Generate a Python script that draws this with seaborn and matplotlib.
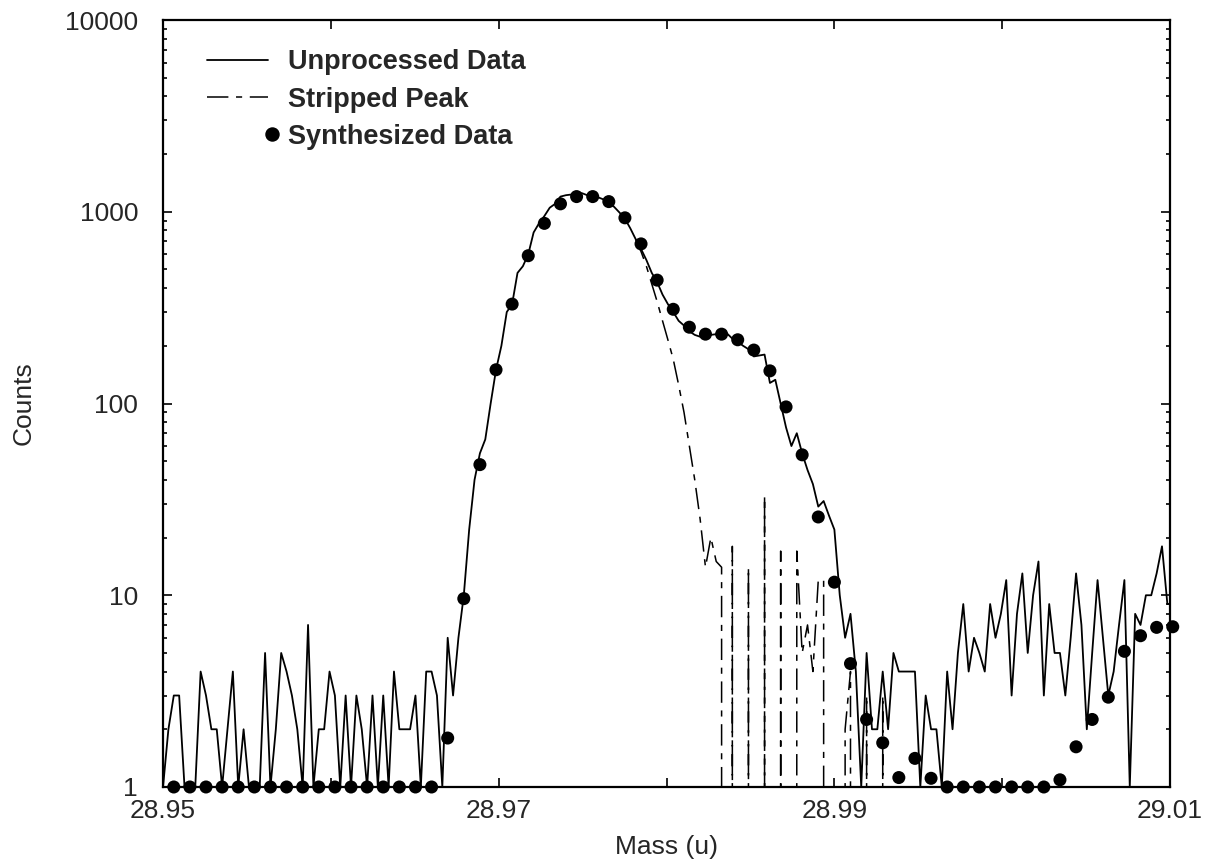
import numpy as np
import matplotlib
matplotlib.use('Agg')
import matplotlib.pyplot as plt
import seaborn as sns
from matplotlib.legend_handler import HandlerLine2D
from matplotlib.lines import Line2D
from matplotlib.ticker import FixedLocator, FixedFormatter, LogLocator, NullFormatter

sns.set_style('ticks')
plt.rcParams['font.family'] = ['Liberation Sans', 'DejaVu Sans']

# mass grid of the raw spectrum (u)
mass_start = 28.95
raw_step = 0.00032

# Unprocessed Data (counts per channel)
raw_counts = [
    1, 2, 3, 3, 1, 1, 1, 4, 3, 2, 2, 1, 2, 4, 1, 2, 1, 1, 1, 5, 1, 2, 5, 4, 3, 2, 1, 7,
    1, 2, 2, 4, 3, 1, 3, 1, 3, 2, 1, 3, 1, 3, 1, 4, 2, 2, 2, 3, 1, 4, 4, 3, 1, 6, 3, 6,
    10, 22, 40, 55, 65, 100, 150, 200, 300, 330,
    480, 520, 600, 780, 870, 950, 1050, 1100, 1200, 1220,
    1230, 1250, 1250, 1220, 1210, 1190, 1160, 1120, 1060, 990,
    920, 820, 720, 640, 560, 480, 430, 370, 330, 300,
    270, 255,
    238, 228, 223, 226, 228, 230, 220, 232, 218, 210,
    200, 192, 176, 178, 180, 128, 133, 100, 75, 60,
    70, 55, 45, 38, 29, 31, 26, 22, 10, 6,
    8, 4, 1, 5, 2, 2, 4, 2, 5, 4,
    4, 4, 4,
    1, 3, 2, 2, 1, 4, 2, 5, 9, 4, 6, 5, 4, 9, 6, 8, 12, 3, 8, 13,
    5, 10, 15, 3, 9, 5, 5, 3, 6, 13, 7, 2, 5, 12, 6, 3, 4, 7, 12, 1,
    8, 7, 10, 10, 13, 18, 9, 9,
]

# Stripped Peak, starts at channel 88 of the raw grid
stripped_first = 88
stripped_counts = [
    720, 620, 520, 420, 340, 270, 215, 170, 125, 90, 60, 40,
    25, 14, 20, 15, 14, 0, 18, 0, 0, 14,
    0, 0, 33, 0, 0, 17, 0, 0, 17, 5,
    7, 4, 12, 12, 0, 0, 0, 2, 4, 0,
    0, 3, 0, 0, 3, 0, 0, 0,
]

# Synthesized Data, every third channel
synth_counts = [
    1, 1, 1, 1, 1, 1, 1, 1, 1, 1, 1, 1, 1, 1, 1, 1, 1,
    1.8, 9.6, 48, 150, 330, 590, 870, 1100, 1200, 1200, 1130, 930, 680, 440,
    310, 250, 230, 230, 215, 190, 148, 96, 54, 25.6, 11.7, 4.4, 2.25, 1.7,
    1.12, 1.41, 1.11, 1, 1, 1, 1, 1, 1, 1,
    1.09, 1.62, 2.25, 2.94, 5.1, 6.15, 6.8, 6.85,
]

x_ticks = [28.95, 28.97, 28.99, 29.01]
x_minor = [28.96, 28.98, 29.00]
y_ticks = [1, 10, 100, 1000, 10000]
y_ticklabels = ['1', '10', '100', '1000', '10000']

raw_mass = mass_start + raw_step * np.arange(len(raw_counts))
stripped_mass = raw_mass[stripped_first:stripped_first + len(stripped_counts)]
synth_mass = raw_mass[2::3][:len(synth_counts)]

dash_dot = (0, (14, 5, 4, 5))

fig = plt.figure(figsize=(12.05, 8.6), dpi=100)
ax = fig.add_axes([0.1353, 0.0849, 0.8357, 0.8918])

sns.lineplot(x=raw_mass, y=raw_counts, color='black', lw=1.3,
             estimator=None, sort=False, ax=ax)
sns.lineplot(x=stripped_mass, y=stripped_counts, color='black', lw=1.1,
             linestyle=dash_dot, estimator=None, sort=False, ax=ax)
sns.scatterplot(x=synth_mass, y=synth_counts, color='black', s=88,
                edgecolor='none', clip_on=False, zorder=3, ax=ax)

ax.set_yscale('log', nonpositive='clip')
ax.set_xlim(28.95, 29.01)
ax.set_ylim(1, 10000)

ax.xaxis.set_major_locator(FixedLocator(x_ticks))
ax.xaxis.set_major_formatter(FixedFormatter(['%.2f' % t for t in x_ticks]))
ax.xaxis.set_minor_locator(FixedLocator(x_minor))
ax.yaxis.set_major_locator(FixedLocator(y_ticks))
ax.yaxis.set_major_formatter(FixedFormatter(y_ticklabels))
ax.yaxis.set_minor_locator(LogLocator(base=10, subs=range(2, 10)))
ax.yaxis.set_minor_formatter(NullFormatter())

ax.tick_params(which='both', direction='in', top=True, right=True,
               color='black', width=1.2)
ax.tick_params(which='major', length=6.5)
ax.tick_params(which='minor', length=3.2)
ax.tick_params(axis='x', which='minor', length=6.5)
ax.tick_params(axis='y', which='major', labelsize=19, pad=18)
ax.tick_params(axis='x', which='major', labelsize=19, pad=9)

for sp in ax.spines.values():
    sp.set_linewidth(1.6)
    sp.set_color('black')

ax.set_xlabel('Mass (u)', fontsize=19, labelpad=8)
ax.set_ylabel('Counts', fontsize=19, labelpad=21)


class RightDotHandler(HandlerLine2D):
    # put the single marker at the right end of the handle
    def get_xdata(self, legend, xdescent, ydescent, width, height, fontsize):
        c = -xdescent + width + 3
        return np.array([c - 1.0, c + 1.0]), np.array([c])


handles = [
    Line2D([], [], color='black', lw=1.3),
    Line2D([], [], color='black', lw=1.1, linestyle=dash_dot),
    Line2D([], [], color='black', lw=0, marker='o', markersize=9.4),
]
labels = ['Unprocessed Data', 'Stripped Peak', 'Synthesized Data']
ax.legend(handles, labels, loc='upper left', bbox_to_anchor=(0.0437, 0.962),
          frameon=False, borderpad=0, borderaxespad=0, handlelength=2.26,
          handletextpad=0.74, labelspacing=0.42,
          prop={'weight': 'bold', 'size': 19.5},
          handler_map={handles[2]: RightDotHandler()})

fig.savefig('out.png', dpi=100)
